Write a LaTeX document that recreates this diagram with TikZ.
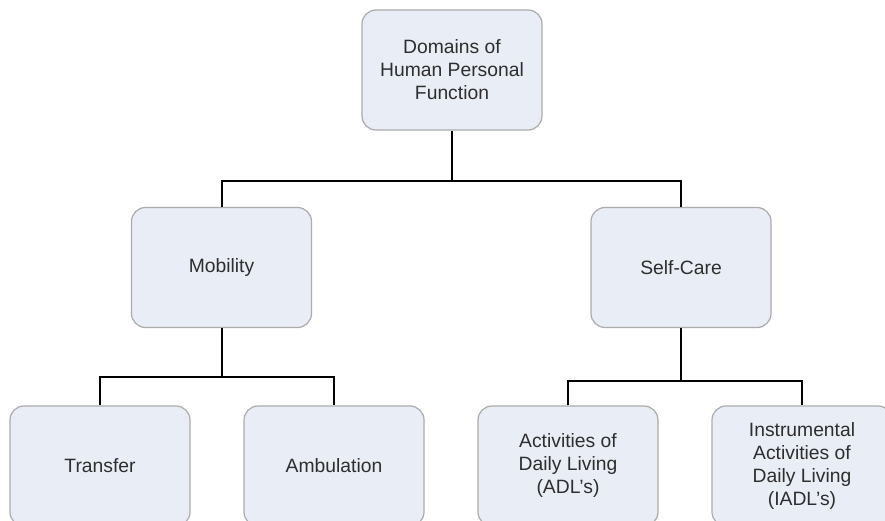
\documentclass[tikz,border=0pt]{standalone}
\usepackage{fontspec}
\setmainfont{Liberation Sans}
\definecolor{boxfill}{HTML}{E9EDF6}
\definecolor{boxline}{HTML}{ABABAB}
\definecolor{txt}{HTML}{2E2E2E}
\begin{document}
\begin{tikzpicture}[x=1pt,y=-1pt,
  box/.style={draw=boxline,line width=1.2pt,fill=boxfill,rounded corners=14pt,
    minimum width=180pt,minimum height=120pt,align=center,text=txt,
    font=\fontsize{19.3}{23}\selectfont,inner sep=2pt},
  conn/.style={draw=black,line width=2pt}]
\useasboundingbox[fill=white] (0,0) rectangle (885,521);
\node[box] (top) at (452,70) {Domains of\\Human Personal\\Function};
\node[box] (mob) at (221.5,267.5) {Mobility};
\node[box] (self) at (681,267.5) {Self-Care};
\node[box] (tra) at (100,466) {Transfer};
\node[box] (amb) at (334,466) {Ambulation};
\node[box] (adl) at (568,466) {Activities of\\Daily Living\\(ADL’s)};
\node[box] (iadl) at (802,466) {Instrumental\\Activities of\\Daily Living\\(IADL’s)};
\coordinate (j1) at (452,181);
\coordinate (j2) at (221.5,377);
\coordinate (j3) at (681,381);
\draw[conn] (top.south) -- (j1);
\draw[conn] (mob.north) |- (j1) -| (self.north);
\draw[conn] (mob.south) -- (j2);
\draw[conn] (tra.north) |- (j2) -| (amb.north);
\draw[conn] (self.south) -- (j3);
\draw[conn] (adl.north) |- (j3) -| (iadl.north);
\end{tikzpicture}
\end{document}
